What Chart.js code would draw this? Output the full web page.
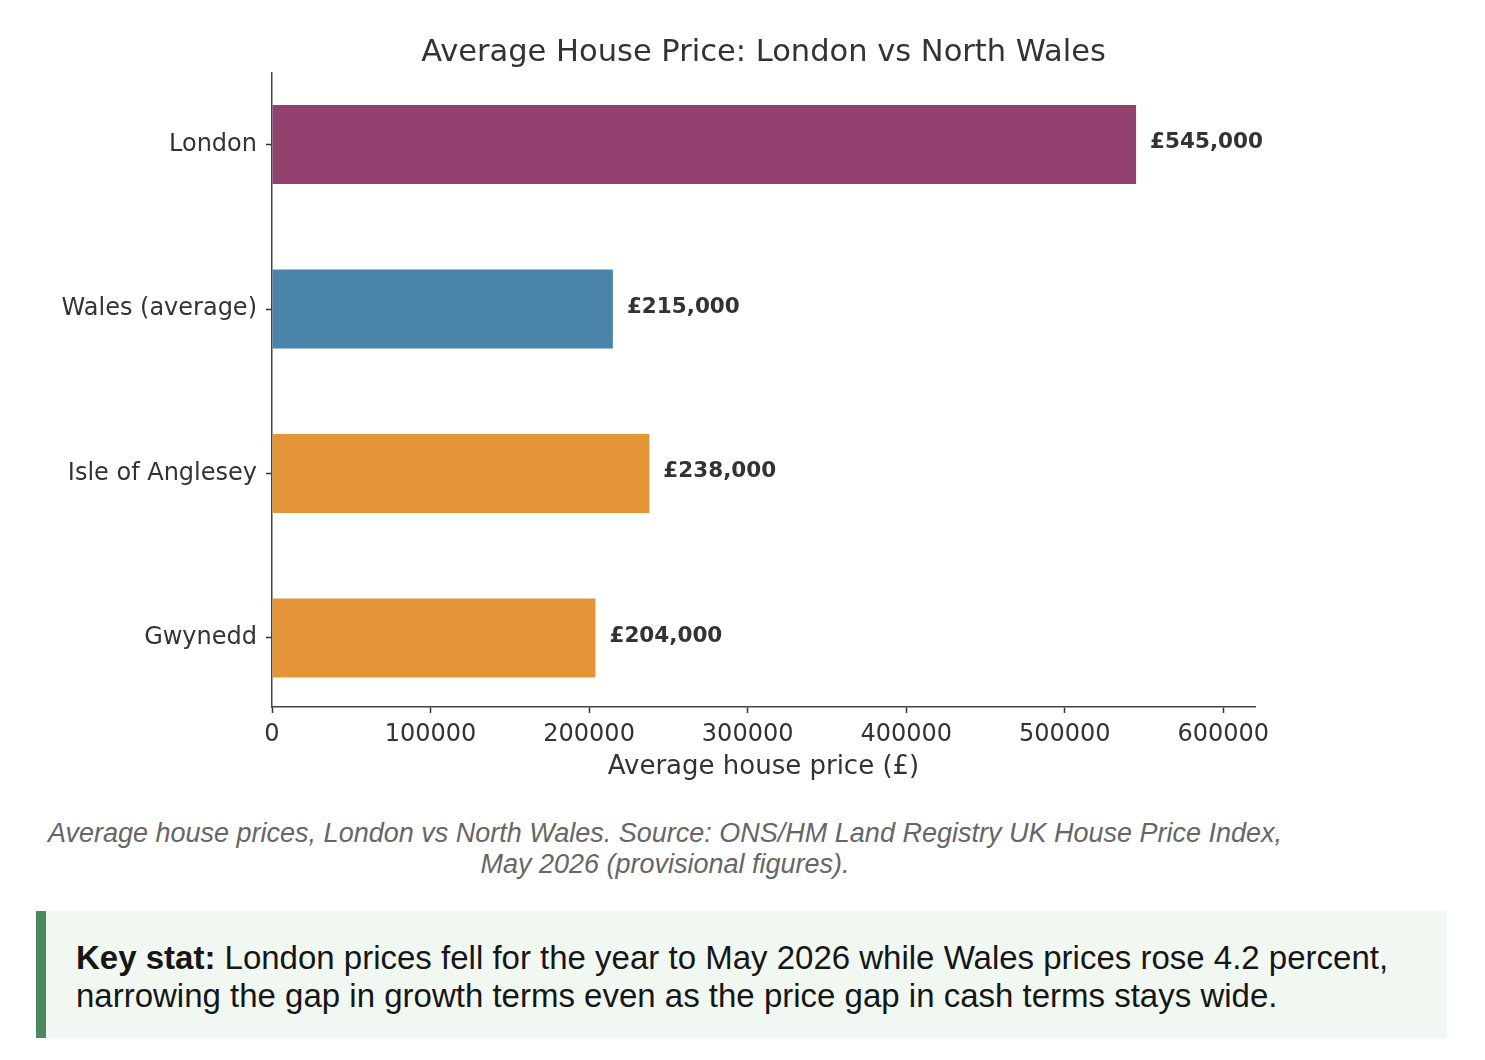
<!DOCTYPE html>
<html>
<head>
<meta charset="utf-8">
<script src="https://cdn.jsdelivr.net/npm/chart.js@4.4.1/dist/chart.umd.min.js"></script>
<style>
  html, body { margin: 0; padding: 0; background: #fff; }
  body { width: 1485px; height: 1060px; position: relative; overflow: hidden; }
  #wrap { position: absolute; left: 0; top: 0; width: 1485px; height: 800px; }
  #caption {
    position: absolute; left: 0; top: 818px; width: 1330px;
    text-align: center; font-family: "Liberation Sans", Arial, sans-serif;
    font-style: italic; font-size: 27px; line-height: 31px; color: #666;
    white-space: nowrap;
  }
  #keystat {
    position: absolute; left: 36px; top: 911px; width: 1411px; height: 127px;
    box-sizing: border-box; border-left: 10px solid #4a8a5e; background: #f1f8f1;
    padding: 28px 0 0 30px; font-family: "Liberation Sans", Arial, sans-serif;
    font-size: 33px; line-height: 38px; color: #161616; white-space: nowrap;
  }
</style>
</head>
<body>
<div id="wrap"><canvas id="c"></canvas></div>
<div id="caption">Average house prices, London vs North Wales. Source: ONS/HM Land Registry UK House Price Index,<br>May 2026 (provisional figures).</div>
<div id="keystat"><b>Key stat:</b> London prices fell for the year to May 2026 while Wales prices rose 4.2 percent,<br>narrowing the gap in growth terms even as the price gap in cash terms stays wide.</div>
<script>
const categories = ["London", "Wales (average)", "Isle of Anglesey", "Gwynedd"];
const prices = [545000, 215000, 238000, 204000];
const valueLabels = ["£545,000", "£215,000", "£238,000", "£204,000"];
const barColors = ["#93416f", "#4a84aa", "#e39538", "#e39538"];
const xTicks = [0, 100000, 200000, 300000, 400000, 500000, 600000];

const points = prices.map((v, i) => ({ x: v, y: i }));

const valueLabelPlugin = {
  id: 'valueLabels',
  afterDatasetsDraw(chart) {
    const ctx = chart.ctx;
    const meta = chart.getDatasetMeta(0);
    ctx.save();
    ctx.font = 'bold 21.5px "DejaVu Sans"';
    ctx.fillStyle = '#333';
    ctx.textAlign = 'left';
    ctx.textBaseline = 'middle';
    meta.data.forEach((bar, i) => {
      ctx.fillText(valueLabels[i], bar.x + 14, bar.y - 2);
    });
    ctx.restore();
  }
};

new Chart(document.getElementById('c'), {
  type: 'bar',
  data: {
    datasets: [{
      data: points,
      backgroundColor: barColors,
      borderWidth: 0,
      barPercentage: 0.48,
      categoryPercentage: 1.0
    }]
  },
  options: {
    indexAxis: 'y',
    responsive: true,
    maintainAspectRatio: false,
    animation: false,
    layout: { padding: { left: 0, right: 230, top: 0, bottom: 0 } },
    plugins: {
      legend: { display: false },
      tooltip: { enabled: false },
      title: {
        display: true,
        fullSize: false,
        text: 'Average House Price: London vs North Wales',
        color: '#333',
        font: { family: '"DejaVu Sans"', size: 30.5, weight: 'normal' },
        padding: { top: 35, bottom: 1.4 }
      }
    },
    scales: {
      y: {
        type: 'linear',
        reverse: true,
        offset: false,
        min: -0.435,
        max: 3.42,
        afterBuildTicks(scale) { scale.ticks = categories.map((c, i) => ({ value: i })); },
        afterFit(scale) { scale.width = 272; },
        ticks: {
          color: '#333',
          font: { family: '"DejaVu Sans"', size: 24 },
          padding: 9,
          callback: (v) => categories[v]
        },
        grid: { offset: false, drawOnChartArea: false, drawTicks: true, tickLength: 6, tickColor: '#333', tickWidth: 1.5 },
        border: { display: true, color: '#444', width: 1.5 }
      },
      x: {
        type: 'linear',
        min: 0,
        max: 620000,
        afterBuildTicks(scale) { scale.ticks = xTicks.map(v => ({ value: v })); },
        afterFit(scale) { scale.height = 93; },
        ticks: {
          color: '#333',
          font: { family: '"DejaVu Sans"', size: 24 },
          padding: 7,
          maxRotation: 0,
          callback: (v) => String(v)
        },
        title: {
          display: true,
          text: 'Average house price (£)',
          color: '#333',
          font: { family: '"DejaVu Sans"', size: 26 },
          padding: { top: 4, bottom: 17 }
        },
        grid: { drawOnChartArea: false, drawTicks: true, tickLength: 6, tickColor: '#333', tickWidth: 1.5 },
        border: { display: true, color: '#444', width: 1.5 }
      }
    }
  },
  plugins: [valueLabelPlugin]
});
</script>
</body>
</html>
